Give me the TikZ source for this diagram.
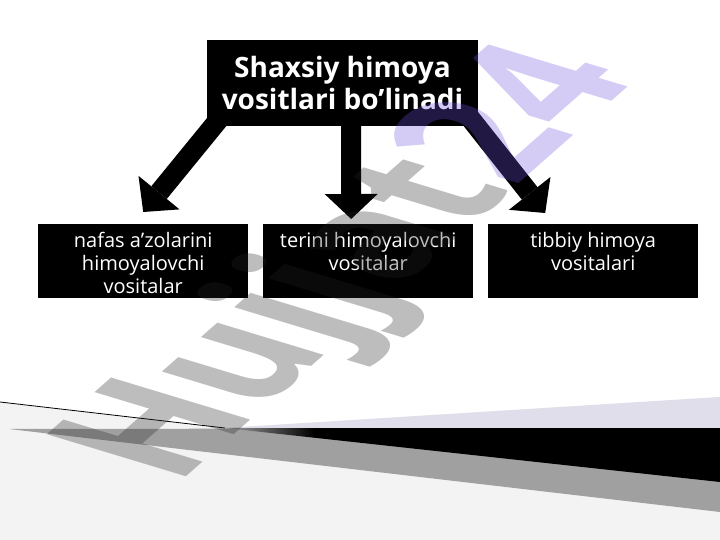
\documentclass[tikz,border=0pt]{standalone}
\usepackage{fontspec}
\setmainfont{Open Sans}
\usetikzlibrary{arrows.meta,backgrounds}
\definecolor{hjgray}{RGB}{35,35,35}
\definecolor{hjviolet}{RGB}{112,85,222}
\definecolor{bandgray}{RGB}{160,160,160}
\definecolor{bandlight}{RGB}{223,222,234}
\definecolor{floorgray}{RGB}{243,243,243}
\pgfdeclarehorizontalshading{wedgefade}{100bp}{color(0bp)=(bandgray); color(25bp)=(bandgray); color(34bp)=(black); color(100bp)=(black)}
\begin{document}
\begin{tikzpicture}[x=1pt,y=-1pt,
    headbox/.style={fill=black,text=white,minimum width=271pt,minimum height=86pt,inner sep=0pt,align=center,font=\bfseries\fontsize{28}{32}\selectfont},
    itembox/.style={fill=black,text=white,minimum width=210pt,minimum height=74pt,inner sep=0pt,anchor=north west,font=\fontsize{20}{23}\selectfont},
    bigarrow/.style={line width=20pt,-{Triangle[width=53pt,length=25pt,line width=0pt]}}]
    \useasboundingbox (0,0) rectangle (720,540);

    \fill[floorgray] (0,402) -- (225,428) -- (720,397) -- (720,540) -- (0,540) -- cycle;
    \fill[bandgray] (9,429) -- (720,428) -- (720,512) -- cycle;
    \fill[bandlight] (225,428) -- (720,397) -- (720,428) -- cycle;
    \shade[shading=wedgefade] (225,428) -- (720,428) -- (720,482) -- cycle;
    \draw[line width=0.8pt] (0,402) -- (225,428);

    \node[headbox] (shaxsiy) at (342.5,83) {Shaxsiy himoya\\vositlari bo’linadi};

    \node[itembox] (nafas) at (38,224) {\parbox[c][74pt][t]{200pt}{\centering\vspace*{8pt}nafas a’zolarini\\himoyalovchi\\vositalar}};
    \node[itembox] (terini) at (263,224) {\parbox[c][74pt][t]{200pt}{\centering\vspace*{8pt}terini himoyalovchi\\vositalar}};
    \node[itembox] (tibbiy) at (488,224) {\parbox[c][74pt][t]{200pt}{\centering\vspace*{8pt}tibbiy himoya\\vositalari}};

    \begin{scope}[on background layer]
        \draw[bigarrow] ([xshift=13pt,yshift=8pt]shaxsiy.south west) -- ([yshift=12pt]nafas.north);
        \draw[bigarrow] ([xshift=8.5pt,yshift=8pt]shaxsiy.south) -- ([xshift=-17pt,yshift=5pt]terini.north);
        \draw[bigarrow] ([xshift=-8pt,yshift=8pt]shaxsiy.south east) -- ([xshift=-48pt,yshift=11pt]tibbiy.north);
    \end{scope}

    \begin{scope}[shift={(176,486)},cm={1.10,0.97,-1.95,0.59,(0,0)}]
        \node[transform shape,anchor=base west,inner sep=0pt,text opacity=0.3,font=\bfseries\fontsize{100}{100}\selectfont] (watermark) at (0,0) {\textcolor{hjgray}{Hujjat}\textcolor{hjviolet}{24}};
    \end{scope}
\end{tikzpicture}
\end{document}
